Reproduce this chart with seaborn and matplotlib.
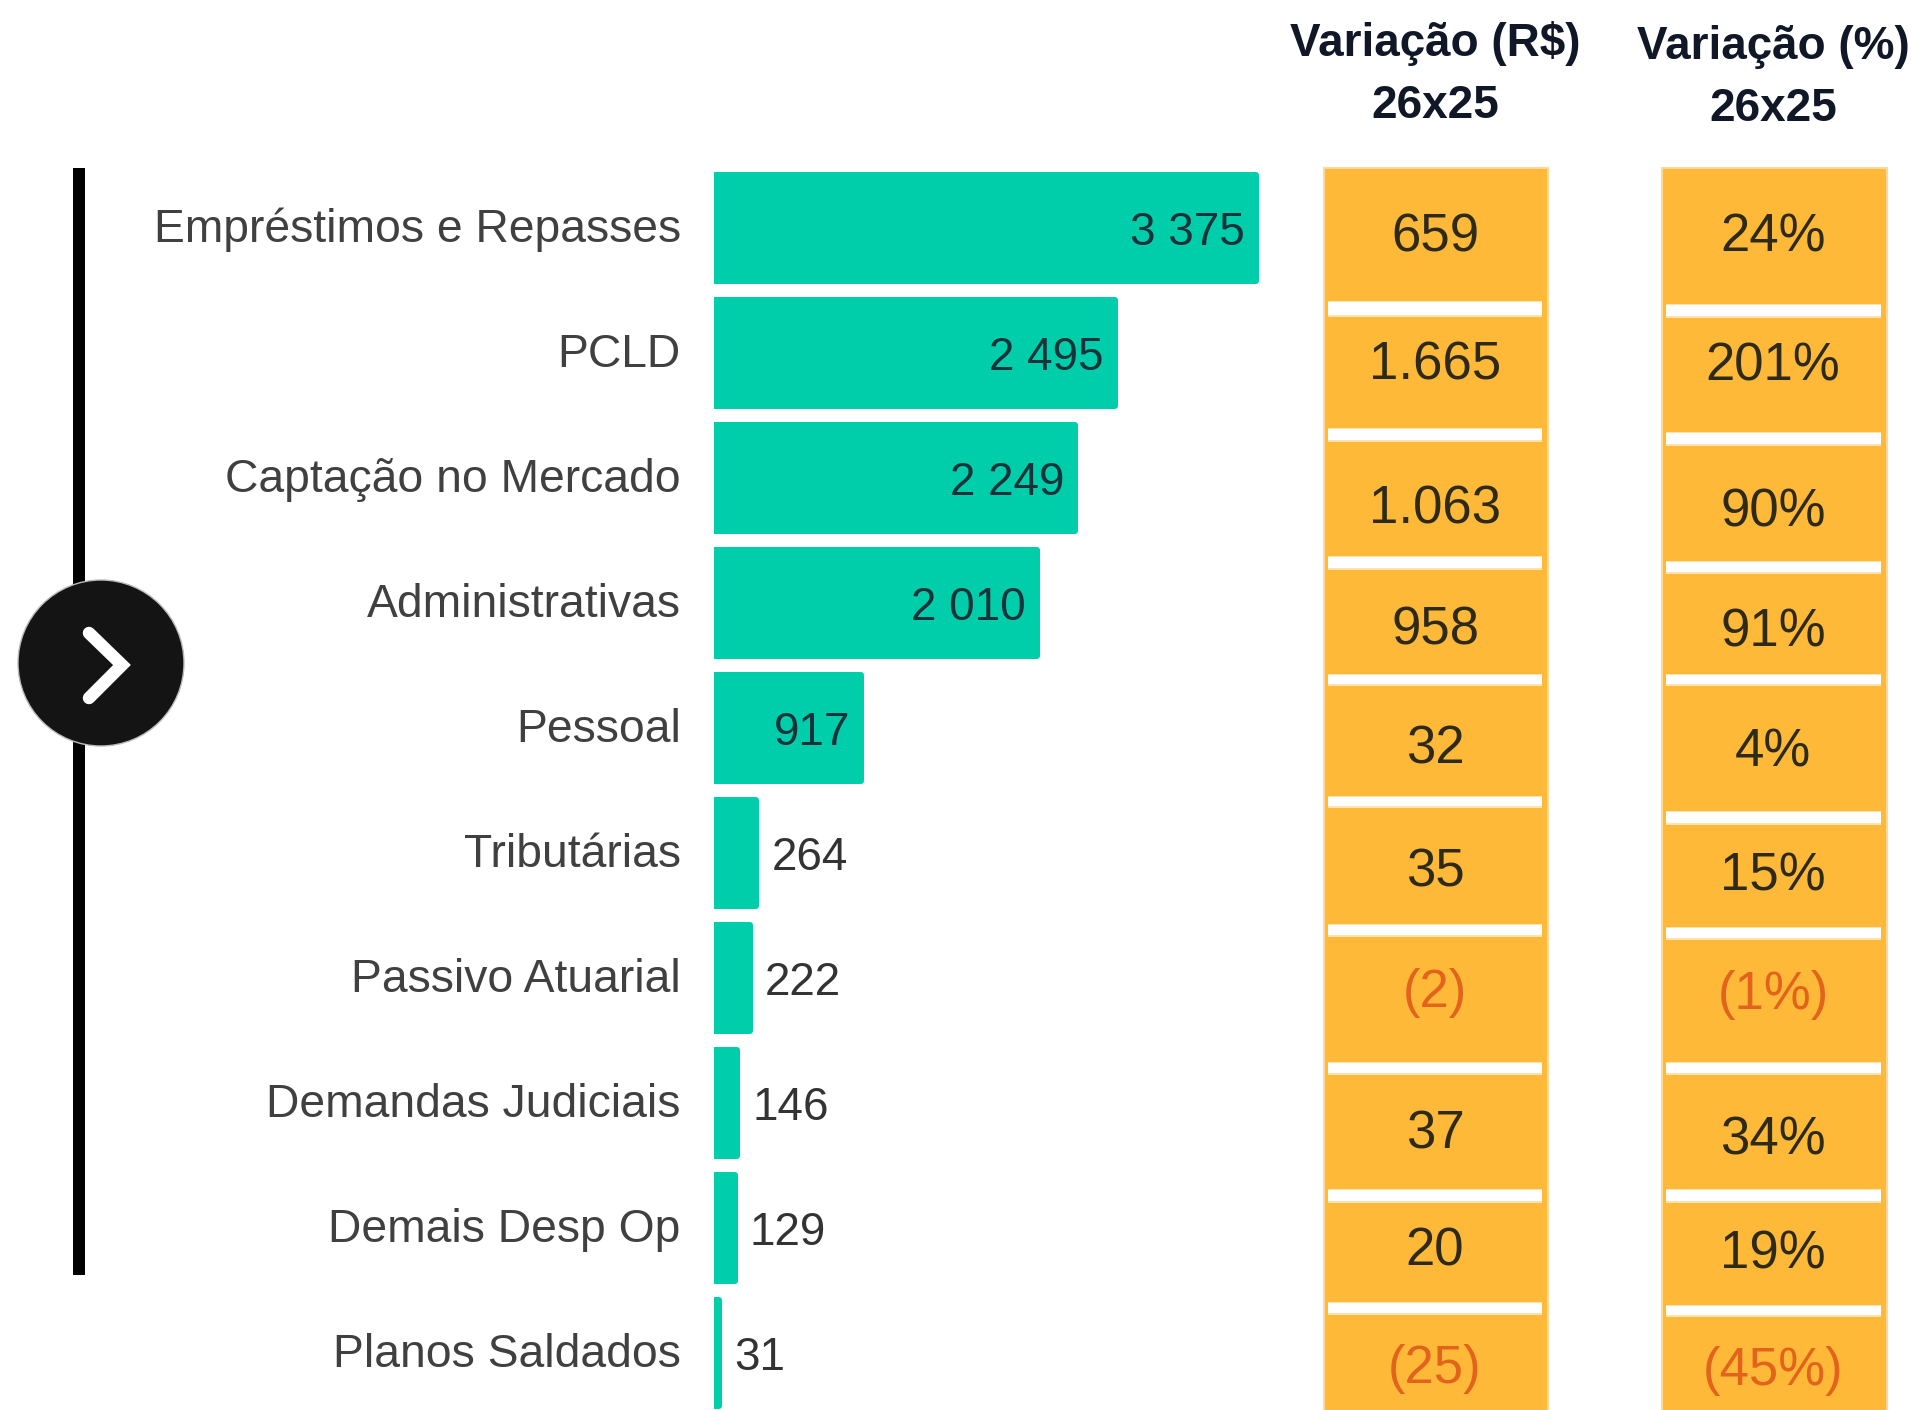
import matplotlib
matplotlib.use("Agg")
import matplotlib.pyplot as plt
import pandas as pd
import seaborn as sns
from matplotlib.patches import Circle, Rectangle
from matplotlib.transforms import ScaledTranslation

categories = ["Empréstimos e Repasses", "PCLD", "Captação no Mercado", "Administrativas", "Pessoal",
              "Tributárias", "Passivo Atuarial", "Demandas Judiciais", "Demais Desp Op", "Planos Saldados"]
valores = [3375, 2495, 2249, 2010, 917, 264, 222, 146, 129, 31]
rotulos = ["3 375", "2 495", "2 249", "2 010", "917", "264", "222", "146", "129", "31"]
var_rs = ["659", "1.665", "1.063", "958", "32", "35", "(2)", "37", "20", "(25)"]
var_pct = ["24%", "201%", "90%", "91%", "4%", "15%", "(1%)", "34%", "19%", "(45%)"]

W, H = 1913, 1410
VERDE = "#00CDA9"
LARANJA = "#FFB938"
NEGATIVO = "#E2641C"

sns.set_theme(style="white")
plt.rcParams["font.family"] = ["Liberation Sans", "DejaVu Sans"]

fig = plt.figure(figsize=(W / 100, H / 100), dpi=100, facecolor="white")


def px_axes(left, right, top, bottom):
    return fig.add_axes([left / W, 1 - bottom / H, (right - left) / W, (bottom - top) / H])


# bars
ax = px_axes(714, 1276, 165.7, 1415.7)
df = pd.DataFrame({"cat": categories, "valor": valores})
sns.barplot(data=df, x="valor", y="cat", color=VERDE, saturation=1, width=0.85, ax=ax)
ax.set_xlim(0, 3500)
ax.set(xlabel="", ylabel="")
ax.set_xticks([])
ax.tick_params(axis="y", length=0, pad=24, labelsize=33.3, labelcolor="#404040")
sns.despine(ax=ax, left=True, bottom=True)
for lab in ax.get_yticklabels():
    lab.set_transform(lab.get_transform() + ScaledTranslation(0, 0.03, fig.dpi_scale_trans))
for bar in ax.patches:
    bar.set_edgecolor(VERDE)
    bar.set_linewidth(4.3)
    bar.set_joinstyle("round")

for bar, v, rot in zip(ax.patches, valores, rotulos):
    yc = bar.get_y() + bar.get_height() / 2
    dentro = v > 500
    ax.annotate(rot, (v, yc), xytext=(-8 if dentro else 11, 0), textcoords="offset points",
                ha="right" if dentro else "left", va="center_baseline", fontsize=33,
                color="#17323a" if dentro else "#333333")

# overlay in pixel coordinates for the line, the arrow and the two columns
ov = fig.add_axes([0, 0, 1, 1], facecolor="none")
ov.set_xlim(0, W)
ov.set_ylim(H, 0)
ov.axis("off")

ov.add_patch(Rectangle((73, 168), 12, 1107, color="black", lw=0))
ov.add_patch(Circle((101, 663), 83, facecolor="#141414", edgecolor="#bbbbbb", lw=1))
ov.plot([89, 122, 89], [633, 665, 698], color="white", lw=9, solid_capstyle="round", solid_joinstyle="miter")

colunas = [
    dict(x0=1324, x1=1548, titulo="Variação (R$)", xc=1435, ty=(38, 101), textos=var_rs,
         gaps=[(302, 315), (429, 440), (557, 568), (675, 684), (797, 806), (925, 935), (1063, 1073), (1190, 1201), (1303, 1313)],
         ys=[232, 360, 504, 625, 744, 867, 988, 1129, 1246, 1364]),
    dict(x0=1662, x1=1887, titulo="Variação (%)", xc=1773, ty=(42, 104), textos=var_pct,
         gaps=[(305, 316), (433, 444), (562, 572), (675, 684), (812, 823), (928, 938), (1063, 1073), (1190, 1201), (1306, 1315)],
         ys=[232, 361, 507, 627, 747, 871, 990, 1135, 1249, 1365]),
]

for c in colunas:
    ov.add_patch(Rectangle((c["x0"], 168), c["x1"] - c["x0"], H - 158, facecolor=LARANJA, edgecolor="#FFD79A", lw=1.5))
    for g0, g1 in c["gaps"]:
        ov.add_patch(Rectangle((c["x0"] + 4, g0 - 1.5), c["x1"] - c["x0"] - 10, g1 - g0 + 3, color="#FFE2B0", lw=0))
        ov.add_patch(Rectangle((c["x0"] + 4, g0), c["x1"] - c["x0"] - 10, g1 - g0, color="white", lw=0))
    for t, y in zip(c["textos"], c["ys"]):
        cor = NEGATIVO if t.startswith("(") else "#2e2a1a"
        ov.text(c["xc"], y, t, ha="center", va="center_baseline", fontsize=38, color=cor)
    ov.text(c["xc"], c["ty"][0], c["titulo"], ha="center", va="center_baseline", fontsize=33, fontweight="bold", color="#101828")
    ov.text(c["xc"], c["ty"][1], "26x25", ha="center", va="center_baseline", fontsize=33, fontweight="bold", color="#101828")

fig.savefig("out.png", dpi=100, facecolor="white")
